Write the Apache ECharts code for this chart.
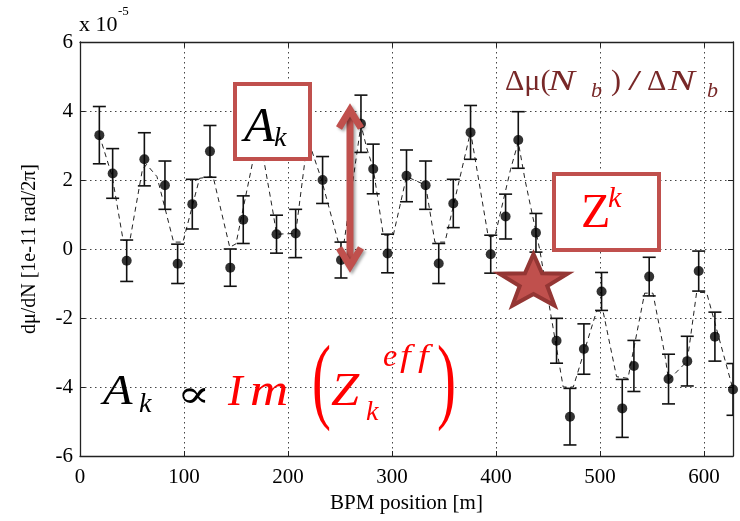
<!DOCTYPE html>
<html><head><meta charset="utf-8">
<script src="https://cdn.jsdelivr.net/npm/echarts@6/dist/echarts.min.js"></script>
<style>html,body{margin:0;padding:0;background:#fff}#c{width:740px;height:521px}</style>
</head><body><div id="c"></div>
<script>
// ---- data (values in units of 1e-5) ----
const bpmX = [18.6, 31.4, 44.9, 61.9, 81.7, 93.9, 108, 125, 144.5, 157, 189, 207.4, 233.3, 251, 270.2, 282, 295.8, 314, 332.4, 345, 359, 375.6, 395, 409.3, 421.5, 438.5, 458.3, 471.2, 484.6, 501.6, 521.5, 532.7, 547.4, 566, 584, 595, 610.6, 628];
const dmu = [3.3, 2.19, -0.34, 2.6, 1.85, -0.43, 1.3, 2.83, -0.54, 0.85, 0.43, 0.45, 2.0, -0.32, 3.63, 2.32, -0.13, 2.12, 1.85, -0.42, 1.32, 3.38, -0.15, 0.94, 3.16, 0.47, -2.66, -4.86, -2.9, -1.23, -4.62, -3.39, -0.8, -3.77, -3.25, -0.64, -2.54, -4.07];
const dmuErr = [0.83, 0.72, 0.6, 0.77, 0.7, 0.57, 0.72, 0.75, 0.54, 0.69, 0.55, 0.7, 0.68, 0.52, 0.83, 0.72, 0.56, 0.75, 0.7, 0.58, 0.7, 0.78, 0.55, 0.65, 0.82, 0.56, 0.65, 0.82, 0.73, 0.55, 0.84, 0.74, 0.56, 0.72, 0.72, 0.58, 0.71, 0.75];
const modelX = [18.6, 31, 41.5, 48, 60, 64, 74, 90, 99, 115, 128, 144, 150, 172, 186, 189, 207.4, 219, 232.4, 248.4, 254, 270.2, 276, 282, 291.7, 301.3, 314, 332.4, 341.3, 351, 375.6, 392.6, 399, 414, 421.5, 428, 442, 464.7, 474.4, 496.8, 503, 516, 527, 543, 551, 562.5, 566, 584, 593, 602.6, 628];
const modelY = [3.3, 2.1, 0.25, 0.25, 2.3, 2.45, 2.1, 0.2, 0.2, 2.05, 2.1, 0.05, 0.15, 3.4, 1.0, 0.43, 0.45, 3.2, 2.0, 0.2, 0.2, 3.6, 2.9, 2.34, 0.4, 0.4, 2.1, 1.85, 0.2, 0.2, 3.4, 0.36, 0.36, 2.3, 3.1, 2.0, 0.0, -4.0, -4.0, -1.8, -1.8, -3.7, -3.75, -1.28, -1.28, -3.07, -3.8, -3.25, -1.26, -1.26, -4.07];
const xRange = [0, 628];
const yRange = [-6, 6];

const SERIF = 'Liberation Serif';
const chart = echarts.init(document.getElementById('c'));

function txt(t, x, y, size, color, opts) {
  opts = opts || {};
  const font = (opts.italic ? 'italic ' : '') + size + 'px ' + (opts.family || '"Liberation Serif", serif');
  const el = {
    type: 'text', x: x, y: y, z: 110,
    style: { text: t, font: font, fill: color, align: 'left', verticalAlign: 'middle',
             textAlign: 'left', textVerticalAlign: 'middle' }
  };
  if (opts.scaleX) el.scaleX = opts.scaleX;
  return el;
}

function starPts(cx, cy, R, r, sx) {
  const pts = [];
  for (let i = 0; i < 10; i++) {
    const a = -Math.PI / 2 + i * Math.PI / 5;
    const rad = i % 2 === 0 ? R : r;
    pts.push([cx + sx * rad * Math.cos(a), cy + rad * Math.sin(a)]);
  }
  return pts;
}

const boxColor = '#c0504d';
const arrowShadow = { shadowBlur: 3, shadowOffsetX: 2, shadowOffsetY: 2, shadowColor: 'rgba(0,0,0,0.35)' };
const graphics = [
  txt('x 10', 79, 25, 22, '#000'),
  txt('-5', 118, 12, 13, '#000'),
  { type: 'rect', z: 105, shape: { x: 235, y: 84, width: 75, height: 75 },
    style: { fill: '#fff', stroke: boxColor, lineWidth: 4 } },
  txt('A', 244, 128, 48, '#000', { italic: true, scaleX: 1.05 }),
  txt('k', 274, 139, 28, '#000', { italic: true }),
  { type: 'line', z: 105, shape: { x1: 350, y1: 114, x2: 350, y2: 262 },
    style: Object.assign({ stroke: boxColor, lineWidth: 7 }, arrowShadow) },
  { type: 'polyline', z: 105, shape: { points: [[339, 128], [350, 110], [361, 128]] },
    style: Object.assign({ stroke: boxColor, lineWidth: 7, fill: null, lineJoin: 'miter' }, arrowShadow) },
  { type: 'polyline', z: 105, shape: { points: [[339, 248], [350, 266], [361, 248]] },
    style: Object.assign({ stroke: boxColor, lineWidth: 7, fill: null, lineJoin: 'miter' }, arrowShadow) },
  txt('Δμ(', 505, 82, 30, '#782828'),
  txt('N', 548, 82, 30, '#782828', { italic: true, scaleX: 1.35 }),
  txt('b', 591, 91, 22, '#782828', { italic: true }),
  txt(')', 611, 82, 30, '#782828'),
  txt('/', 628, 82, 30, '#782828', { scaleX: 1.6 }),
  txt('Δ', 647, 82, 30, '#782828'),
  txt('N', 668, 82, 30, '#782828', { italic: true, scaleX: 1.35 }),
  txt('b', 707, 91, 22, '#782828', { italic: true }),
  { type: 'rect', z: 105, shape: { x: 554, y: 174, width: 105, height: 76 },
    style: { fill: '#fff', stroke: boxColor, lineWidth: 4 } },
  txt('Z', 581, 214, 48, '#ff0000'),
  txt('k', 608, 199, 30, '#ff0000', { italic: true }),
  { type: 'polygon', z: 106, shape: { points: starPts(533.5, 282.5, 28.5, 11.5, 1.26) },
    style: { fill: '#c0504d', stroke: '#943634', lineWidth: 4, lineJoin: 'miter' } },
  txt('A', 103, 393, 42, '#000', { italic: true, scaleX: 1.15 }),
  txt('k', 139, 405, 28, '#000', { italic: true }),
  txt('∝', 177, 397, 38, '#000', { family: '"DejaVu Serif","DejaVu Sans",serif', scaleX: 1.3 }),
  txt('I', 228, 393, 44, '#ff0000', { italic: true }),
  txt('m', 250, 393, 46, '#ff0000', { italic: true, scaleX: 1.15 }),
  txt('(', 312, 386, 95, '#ff0000', { scaleX: 0.6 }),
  txt('Z', 331, 393, 46, '#ff0000', { italic: true, scaleX: 1.1 }),
  txt('k', 366, 413, 28, '#ff0000', { italic: true }),
  txt('e', 383, 358, 32, '#ff0000', { italic: true }),
  txt('f', 400, 358, 32, '#ff0000', { italic: true, scaleX: 1.2 }),
  txt('f', 418, 358, 32, '#ff0000', { italic: true, scaleX: 1.2 }),
  txt(')', 437, 386, 95, '#ff0000', { scaleX: 0.6 })
];

const axisLine = { show: true, onZero: false, lineStyle: { color: '#222', width: 1.3 } };
const tick = { show: true, inside: true, length: 5, lineStyle: { color: '#222' } };
const splitLine = { show: true, lineStyle: { color: '#444', type: [1.5, 3.5], width: 1 } };

chart.setOption({
  animation: false,
  backgroundColor: '#fff',
  textStyle: { fontFamily: SERIF },
  grid: { left: 80, top: 42, right: 7, bottom: 65 },
  xAxis: [
    { type: 'value', min: xRange[0], max: xRange[1], interval: 100,
      name: 'BPM position [m]', nameLocation: 'middle', nameGap: 34,
      nameTextStyle: { fontFamily: SERIF, fontSize: 21, color: '#000' },
      axisLine: axisLine, axisTick: tick,
      axisLabel: { fontFamily: SERIF, fontSize: 21, color: '#000', margin: 11, showMaxLabel: false },
      splitLine: splitLine },
    { type: 'value', position: 'top', min: xRange[0], max: xRange[1], interval: 100,
      axisLine: axisLine, axisTick: tick, axisLabel: { show: false }, splitLine: { show: false } }
  ],
  yAxis: [
    { type: 'value', min: yRange[0], max: yRange[1], interval: 2,
      name: 'dμ/dN [1e-11 rad/2π]', nameLocation: 'middle', nameGap: 40, nameRotate: 90,
      nameTextStyle: { fontFamily: SERIF, fontSize: 20, color: '#000' },
      axisLine: axisLine, axisTick: tick,
      axisLabel: { fontFamily: SERIF, fontSize: 21, color: '#000', margin: 7 },
      splitLine: splitLine },
    { type: 'value', position: 'right', min: yRange[0], max: yRange[1], interval: 2,
      axisLine: axisLine, axisTick: tick, axisLabel: { show: false }, splitLine: { show: false } }
  ],
  series: [
    { type: 'line', name: 'model', data: modelX.map((x, i) => [x, modelY[i]]),
      symbol: 'none', lineStyle: { type: [5, 4], width: 1, color: '#222' }, z: 2, silent: true },
    { type: 'custom', name: 'err', clip: true, z: 3,
      data: bpmX.map((x, i) => [x, dmu[i] - dmuErr[i], dmu[i] + dmuErr[i]]),
      encode: { x: 0, y: [1, 2] },
      renderItem: function (params, api) {
        const x = api.value(0);
        const top = api.coord([x, api.value(2)]);
        const bot = api.coord([x, api.value(1)]);
        const hw = 6.5;
        const st = { stroke: '#111', lineWidth: 1.6 };
        return { type: 'group', children: [
          { type: 'line', shape: { x1: top[0], y1: top[1], x2: bot[0], y2: bot[1] }, style: st },
          { type: 'line', shape: { x1: top[0] - hw, y1: top[1], x2: top[0] + hw, y2: top[1] }, style: st },
          { type: 'line', shape: { x1: bot[0] - hw, y1: bot[1], x2: bot[0] + hw, y2: bot[1] }, style: st }
        ] };
      } },
    { type: 'scatter', name: 'data', data: bpmX.map((x, i) => [x, dmu[i]]),
      symbol: 'circle', symbolSize: 10, itemStyle: { color: '#000' }, z: 4 }
  ],
  graphic: graphics
});
</script></body></html>
